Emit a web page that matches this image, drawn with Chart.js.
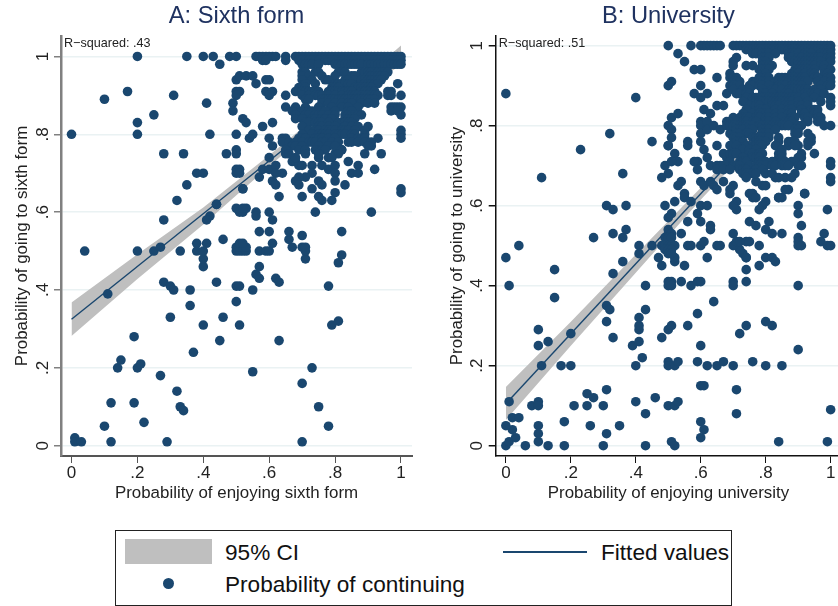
<!DOCTYPE html>
<html>
<head>
<meta charset="utf-8">
<title>Probability of continuing</title>
<script src="https://cdn.jsdelivr.net/npm/chart.js"></script>
<style>
  html, body { margin: 0; padding: 0; background: #fff; overflow: hidden; width: 838px; height: 606px; }
  body { position: relative; font-family: "Liberation Sans", Arial, sans-serif; }
  canvas { position: absolute; top: 0; }
  #chartA { left: 0; }
  #chartB { left: 430px; }
  .legend { position: absolute; left: 115px; top: 530px; width: 615px; height: 74px; border: 1px solid #222; }
  .legend span { position: absolute; font-size: 22.6px; line-height: 26px; color: #111; white-space: nowrap; }
  .swatch { position: absolute; left: 9px; top: 8px; width: 87px; height: 25px; background: #bfbfbf; }
  .fit { position: absolute; left: 387px; top: 20px; width: 84px; height: 2px; background: #1a476f; }
  .dot { position: absolute; left: 47px; top: 47px; width: 11px; height: 11px; border-radius: 50%; background: #1a476f; }
</style>
</head>
<body>
<canvas id="chartA" width="419" height="510"></canvas>
<canvas id="chartB" width="416" height="510"></canvas>
<div class="legend">
  <div class="swatch"></div>
  <span style="left:109px;top:9px">95% CI</span>
  <div class="fit"></div>
  <span style="left:485px;top:9px">Fitted values</span>
  <div class="dot"></div>
  <span style="left:109px;top:41px">Probability of continuing</span>
</div>
<script>
const tickValues = [0, .2, .4, .6, .8, 1]
const tickLabels = ['0', '.2', '.4', '.6', '.8', '1']

// Panel A: fit and confidence band
const sixthBandX = [0, .2, .4, .6, .75, .9, 1]
const sixthBandLow = [.282, .428, .568, .718, .826, .922, .978]
const sixthBandHigh = [.368, .492, .612, .746, .85, .954, 1.028]
const sixthFitX = [0, 1]
const sixthFitY = [.325, 1.003]

// Panel A: sparse points as [x, y]
const sixthPoints = [
  [.01, .02], [.01, .01], [.03, .01], [.12, .01], [.29, .01], [.70, .01], [.10, .05], [.22, .06], [.78, .05],
  [.12, .11], [.19, .11], [.33, .10], [.34, .09], [.75, .10], [.32, .14], [.27, .18], [.70, .16], [.55, .19],
  [.14, .20], [.15, .22], [.20, .20], [.21, .21], [.73, .20], [.37, .24], [.19, .28], [.45, .27], [.63, .27],
  [.30, .33], [.40, .31], [.46, .33], [.51, .31], [.79, .31], [.81, .32], [.36, .36], [.50, .37], [.11, .39],
  [.28, .42], [.30, .41], [.31, .40], [.36, .40], [.44, .42], [.50, .41], [.51, .41], [.55, .40], [.78, .41],
  [.62, .43], [.63, .42], [.57, .43], [.56, .44], [.57, .46], [.40, .46], [.40, .48], [.71, .48], [.81, .47],
  [.82, .49], [.04, .50], [.20, .50], [.25, .50], [.27, .51], [.33, .50], [.38, .50], [.40, .50], [.38, .52],
  [.41, .52], [.46, .53], [.50, .50], [.51, .50], [.52, .50], [.53, .50], [.50, .51], [.51, .51], [.52, .51],
  [.53, .51], [.51, .52], [.52, .52], [.57, .50], [.59, .50], [.60, .50], [.71, .50], [.70, .51], [.71, .51],
  [.67, .51], [.66, .53], [.61, .52], [.66, .55], [.70, .54], [.82, .55], [.57, .55], [.60, .55], [.32, .63],
  [.44, .62], [.42, .59], [.41, .58], [.28, .58], [.52, .66], [.50, .61], [.51, .60], [.52, .60], [.53, .61],
  [.52, .61], [.56, .60], [.56, .59], [.60, .60], [.61, .58], [.74, .60], [.91, .60], [0, .80], [.20, .80],
  [.20, .83], [.20, 1], [.10, .89], [.17, .91], [.31, .90], [.25, .85], [.41, .88], [.35, 1], [.40, 1], [.43, 1],
  [.45, .98], [.48, 1], [.50, 1], [.56, 1], [.57, 1], [.58, 1], [.59, 1], [.60, 1], [.61, 1], [.62, 1], [.58, .99],
  [.59, .99], [.65, 1], [.65, .99], [.42, .80], [.50, .80], [.28, .75], [.34, .75], [.47, .75], [.50, .76], [.50, .75],
  [.38, .70], [.40, .70], [.35, .67], [.50, .71], [.51, .71], [.50, .70], [.51, .70], [.50, .94], [.51, .95],
  [.53, .95], [.55, .95], [.56, .93], [.59, .94], [.60, .94], [.50, .91], [.51, .91], [.50, .90], [.59, .91],
  [.61, .91], [.60, .90], [.49, .88], [.49, .86], [.52, .84], [.53, .83], [.58, .82], [.61, .83], [.54, .79],
  [.55, .80], [.60, .79], [.61, .77], [.60, .74], [.65, .90], [.65, .87], [.58, .71], [.60, .71], [.62, .72],
  [.64, .70], [.62, .70], [.57, .69], [.61, .68], [.62, .67], [.63, .64], [.52, .66], [.44, .62], [.65, .75],
  [.67, .73], [.68, .73], [.69, .72], [.70, .72], [.73, .72], [.76, .72], [.78, .71], [.80, .72], [.80, .70],
  [.73, .70], [.71, .69], [.69, .69], [.68, .68], [.69, .67], [.80, .68], [.75, .68], [.76, .67], [.73, .66],
  [.83, .67], [.80, .65], [.75, .64], [.76, .63], [.79, .63], [.70, .64], [.84, .73], [.87, .72], [.85, .70],
  [.87, .70], [.92, .71], [.89, .75], [.94, .75], [.91, .77], [.75, .74], [.78, .74], [.80, .75], [.82, .76],
  [1, .66], [1, .65]
]

// Panel A: dense upper right, by row as [y, xs]
const sixthRows = [
  [1, [.68, .69, .70, .71, .72, .73, .74, .75, .76, .77, .78, .79, .80, .81, .82, .83, .84, .85, .86, .87, .88, .89, .90, .91, .92, .93, .94, .95, .96, .97, .98, .99, 1]],
  [.99, [.69, .70, .71, .72, .73, .74, .75, .77, .78, .79, .80, .81, .82, .83, .84, .85, .86, .87, .88, .89, .90, .91, .92, .93, .94, .95, .96, .97, .98, .99, 1]],
  [.98, [.70, .71, .72, .73, .75, .80, .81, .82, .83, .84, .85, .86, .87, .88, .90, .91, .92, .93, .94, .95, .96, .97, .98, .99, 1]],
  [.96, [.70, .71, .74, .75, .81, .82, .83, .88, .89, .90, .91, .92, .93, .94, .95, .96]],
  [.95, [.70, .72, .76, .80, .85, .86, .90, .91, .92, .93, .94, .95]],
  [.94, [.70, .73, .77, .78, .83, .84, .86, .88, .89, .90, .91, .92, .93, .94]],
  [.93, [.71, .74, .80, .81, .82, .83, .84, .85, .89, .90, .91, .92, .93, .99]],
  [.92, [.69, .71, .79, .80, .81, .86, .87, .88, .89, .90, .91]],
  [.91, [.68, .70, .71, .72, .73, .74, .75, .78, .79, .80, .81, .82, .83, .84, .85, .88, .89, .90, .91, .92, .96, .97]],
  [.90, [.70, .72, .74, .75, .76, .78, .80, .82, .84, .85, .86, .87, .88, .89, .90, .91, .92, .93, .96, .97, 1]],
  [.89, [.71, .72, .76, .77, .78, .79, .80, .81, .82, .83, .84, .85, .86, .87, .88, .89, .90, .91, .92]],
  [.88, [.76, .78, .80, .82, .84, .85, .88, .90, .92]],
  [.87, [.68, .71, .75, .79, .82, .84, .87, .97, .98, .99, 1]],
  [.86, [.67, .70, .72, .73, .75, .77, .80, .84, .85, .97, .99]],
  [.85, [.68, .71, .72, .74, .75, .76, .78, .80, .83, .84, .85, .86, .87, .88, 1]],
  [.84, [.68, .70, .73, .74, .76, .77, .79, .83, .84, .85, .86]],
  [.83, [.71, .72, .74, .75, .76, .78, .81, .82, .83, .84, .85]],
  [.82, [.70, .75, .76, .78, .80, .83, .85, .87, .90]],
  [.81, [.72, .74, .75, .77, .78, .79, .80, .82, .83, .84, .86, .89, 1]],
  [.80, [.70, .73, .75, .76, .77, .78, .80, .81, .82, .83, .85, .86, .89, 1]],
  [.79, [.64, .65, .69, .70, .71, .74, .75, .76, .78, .80, .85, .87, .88, .89, .93, 1]],
  [.78, [.64, .66, .68, .70, .72, .73, .74, .76, .77, .79, .81, .84, .85, .87, .89, .91]],
  [.77, [.67, .68, .70, .75, .78, .80, .90]],
  [.76, [.65, .69, .71, .74, .76, .77, .82]],
  [.75, [.66, .71, .75, .81]],
  [.74, [.68, .79]]
]

// Panel B: fit and confidence band
const uniBandX = [0, .2, .4, .6, .75, .9, 1]
const uniBandLow = [.064, .25, .432, .615, .745, .865, .94]
const uniBandHigh = [.147, .31, .478, .645, .775, .905, 1.0]
const uniFitX = [0, 1]
const uniFitY = [.105, .98]

// Panel B: sparse points as [x, y]
const uniPoints = [
  [0, 0], [.01, .01], [.03, .02], [.02, .04], [0, .05], [.06, 0], [.10, .01], [.10, .03], [.10, .05], [.13, 0], [.18, 0],
  [.18, .06], [.26, .05], [.30, 0], [.31, .03], [.35, .05], [.43, 0], [.43, .08], [.51, .01], [.52, 0], [.60, .02],
  [.61, .04], [.60, .06], [.71, .08], [.84, .01], [.99, .01], [1, .09], [.02, .07], [.04, .07], [.01, .11], [.08, .10],
  [.10, .11], [.10, .10], [.21, .10], [.25, .10], [.25, .13], [.27, .12], [.30, .10], [.31, .14], [.40, .11], [.46, .12],
  [.50, .10], [.52, .10], [.53, .11], [.60, .15], [.61, .15], [.71, .14], [.11, .20], [.17, .20], [.20, .20], [.40, .20],
  [.42, .22], [.50, .21], [.50, .20], [.52, .20], [.53, .21], [.59, .21], [.62, .20], [.65, .20], [.67, .21], [.70, .20],
  [.76, .21], [.80, .20], [.85, .20], [.10, .29], [.10, .25], [.13, .26], [.20, .28], [.31, .31], [.33, .27], [.39, .25],
  [.41, .26], [.41, .29], [.41, .30], [.41, .32], [.48, .27], [.50, .29], [.51, .30], [.56, .30], [.60, .25], [.59, .33],
  [.72, .28], [.74, .30], [.80, .31], [.82, .30], [.90, .24], [.31, .35], [.32, .34], [.43, .34], [.15, .37], [.64, .36],
  [.01, .40], [.43, .40], [.50, .41], [.51, .41], [.50, .40], [.51, .40], [.54, .41], [.57, .40], [.59, .41], [.60, .41],
  [.70, .41], [.70, .40], [.74, .41], [.90, .40], [.15, .44], [.33, .43], [.74, .44], [0, .47], [.36, .46], [.41, .48],
  [.47, .47], [.48, .45], [.52, .46], [.52, .47], [.55, .45], [.62, .47], [.74, .47], [.78, .45], [.80, .47], [.82, .47],
  [.83, .46], [.73, .48], [.72, .49], [.27, .52], [.33, .53], [.37, .54], [.36, .52], [.41, .50], [.45, .50], [.50, .54],
  [.51, .53], [.54, .53], [.49, .52], [.50, .52], [.51, .52], [.48, .50], [.49, .50], [.50, .50], [.51, .50], [.52, .50],
  [.49, .49], [.50, .49], [.51, .49], [.50, .48], [.51, .48], [.56, .50], [.57, .50], [.60, .50], [.61, .51], [.56, .56],
  [.60, .56], [.63, .55], [.63, .54], [.65, .50], [.66, .50], [.70, .53], [.70, .50], [.71, .51], [.72, .51], [.74, .51],
  [.75, .51], [.78, .50], [.74, .47], [.75, .56], [.77, .55], [.81, .56], [.80, .54], [.82, .53], [.85, .53], [.91, .55],
  [.90, .52], [.90, .51], [.90, .50], [.91, .50], [.98, .53], [.97, .51], [.99, .50], [1, .50], [.36, .68], [.37, .60],
  [.31, .60], [.33, .59], [.04, .50], [.45, .76], [.50, .75], [.52, .73], [.56, .76], [.56, .75], [.49, .70], [.53, .71],
  [.51, .71], [.50, .68], [.48, .67], [.59, .71], [.58, .71], [.59, .69], [.61, .74], [.65, .75], [.62, .72], [.63, .70],
  [.65, .70], [.67, .73], [.68, .72], [.69, .73], [.54, .66], [.53, .65], [.55, .63], [.55, .62], [.57, .61], [.60, .66],
  [.61, .65], [.63, .66], [.64, .65], [.65, .64], [.67, .66], [.70, .65], [.69, .64], [.69, .63], [.52, .61], [.49, .60],
  [.51, .58], [.50, .57], [.60, .60], [.62, .60], [.59, .58], [.71, .61], [.70, .60], [.71, .59], [.80, .61], [.79, .60],
  [.78, .59], [.75, .63], [.76, .62], [.84, .62], [.85, .62], [.87, .64], [.92, .63], [.90, .60], [.90, .58], [.99, .59],
  [0, .88], [.23, .74], [.11, .67], [.32, .78], [.40, .87], [.53, .98], [.55, .96], [.58, .94], [.60, .94], [.65, .92],
  [.50, .90], [.51, .91], [.60, .90], [.58, .88], [.62, .88], [.60, .87], [.68, .88], [.65, .85], [.67, .85], [.61, .84],
  [.63, .83], [.51, .82], [.53, .83], [.50, .80], [.51, .79], [.51, .77], [.50, .75], [.60, .81], [.60, .80], [.62, .81],
  [.60, .78], [.60, .76], [.62, .79], [.64, .80], [.66, .79], [.68, .81], [.69, .78], [.84, .76], [.87, .75], [.90, .75],
  [.95, .73], [.94, .76], [.91, .72], [.84, .72], [.86, .67], [.83, .67], [.89, .68], [.86, .64], [.92, .63], [.84, .62],
  [.77, .66], [.79, .65], [.80, .65], [.76, .63], [.77, .62], [1, .80], [1, .85], [1, .71], [1, .70], [1, .66], [1, .67]
]

// Panel B: dense upper right, by row as [y, xs]
const uniRows = [
  [1, [.50, .57, .60, .61, .62, .63, .64, .65, .66, .70, .71, .72, .73, .74, .75, .76, .77, .78, .79, .80, .81, .82, .83, .84, .85, .86, .87, .88, .89, .90, .91, .92, .93, .94, .95, .96, .97, .98, .99, 1]],
  [.99, [.74, .75, .76, .77, .78, .79, .80, .81, .82, .83, .84, .85, .86, .87, .88, .89, .90, .91, .92, .93, .94, .95, .96, .97, .98, .99, 1]],
  [.98, [.76, .77, .79, .80, .81, .83, .87, .88, .89, .90, .92, .93, .94, .97, .98, .99, 1]],
  [.97, [.71, .79, .80, .81, .87, .88, .90, .91, .93, .94, .95, .96, .97, .99, 1]],
  [.96, [.70, .79, .80, .88, .89, .90, .91, .92, .93, .94, .95, .96, .97, 1]],
  [.95, [.70, .74, .76, .79, .80, .81, .82, .90, .91, .92, .93, .94, .95, .97, .98]],
  [.94, [.78, .79, .80, .81, .89, .90, .91, .92, .93, .94, .95, .98, 1]],
  [.93, [.69, .80, .88, .89, .90, .92, .94, .95, .98, .99]],
  [.92, [.69, .70, .71, .78, .80, .81, .84, .85, .86, .87, .88, .89, .90, .91, .92, .95, .96, .99, 1]],
  [.91, [.70, .71, .72, .76, .77, .78, .79, .80, .81, .83, .84, .85, .86, .87, .88, .89, .90, .91, .92, .93, .96, .98, 1]],
  [.90, [.69, .70, .71, .72, .75, .76, .78, .79, .81, .84, .85, .86, .88, .89, .90, .91, .97, .99, 1]],
  [.89, [.70, .73, .75, .79, .82, .83, .85, .87, .88, .89, .90, .91, .92, .93, .95, .97]],
  [.88, [.71, .72, .74, .75, .79, .80, .82, .86, .87, .92, .93, .94, .95, .96, .98]],
  [.87, [.74, .76, .77, .79, .80, .81, .82, .83, .84, .85, .86, .87, .88, .89, .90, .92, .95, 1]],
  [.86, [.73, .76, .77, .78, .79, .80, .81, .82, .83, .84, .85, .86, .87, .88, .90, .93, .97, 1]],
  [.85, [.75, .77, .78, .82, .83, .84, .86, .87, .88, .90, .91, .93]],
  [.84, [.74, .78, .79, .80, .83, .85, .87, .88, .91, .94, .95, .96]],
  [.83, [.73, .76, .78, .79, .80, .81, .83, .85, .87, .88, .91, .92, .95, .96]],
  [.82, [.70, .72, .73, .74, .75, .77, .78, .80, .81, .83, .85, .88, .89, .92, .93, .96, .97]],
  [.81, [.69, .71, .73, .74, .76, .77, .80, .81, .83, .86, .87, .88, .93, .96, .97]],
  [.80, [.68, .69, .70, .71, .72, .73, .74, .75, .76, .78, .79, .80, .81, .82, .83, .84, .85, .86, .87, .90, .91, .98]],
  [.79, [.71, .72, .73, .75, .76, .79, .80, .81, .83, .89, .90]],
  [.78, [.71, .72, .74, .75, .79, .80, .81, .89, .90, .93]],
  [.77, [.70, .71, .72, .76, .77, .78, .79, .80, .81, .84, .94]],
  [.76, [.71, .72, .73, .77, .78, .79, .80, .87, .88, .89, .93]],
  [.75, [.69, .71, .74, .76, .77, .78, .79, .83, .89, .93]],
  [.74, [.72, .73, .75, .77, .85]],
  [.73, [.70, .71, .75, .76, .78, .79, .84, .85, .91]],
  [.72, [.73, .76, .77, .78, .85, .90]],
  [.71, [.69, .72, .73, .74, .78, .79, .80, .82, .85, .86, .88, .89]],
  [.70, [.66, .67, .68, .70, .71, .72, .75, .77, .78, .79, .80, .82, .83, .85, .86, .87, .90, .91]],
  [.69, [.65, .67, .69, .72, .73, .74, .77, .79]],
  [.68, [.73, .74, .75, .76, .77, .80, .82]],
  [.67, [.74, .84, .88]]
]

const navy = '#1a476f'

function flatten(points, rows) {
  const rowPoints = rows.flatMap(([y, xs]) => xs.map(x => ({ x, y })))
  return points.map(([x, y]) => ({ x, y })).concat(rowPoints)
}

function zip(xs, ys) {
  return xs.map((x, i) => ({ x, y: ys[i] }))
}

// R-squared note in the top left corner of the plot
const noteLabel = {
  id: 'noteLabel',
  afterDraw(chart, args, opts) {
    const ctx = chart.ctx
    ctx.save()
    ctx.font = '12.6px "Liberation Sans"'
    ctx.fillStyle = '#222'
    ctx.textBaseline = 'middle'
    ctx.fillText(opts.text, chart.chartArea.left + 3, 44)
    ctx.restore()
  }
}

function panel(id, cfg) {
  const fixTicks = axis => { axis.ticks = tickValues.map(value => ({ value })) }
  return new Chart(document.getElementById(id), {
    type: 'scatter',
    plugins: [noteLabel],
    data: {
      datasets: [
        {
          data: flatten(cfg.points, cfg.rows),
          backgroundColor: navy,
          borderWidth: 0,
          pointRadius: 4.8
        },
        {
          type: 'line',
          data: zip(cfg.fitX, cfg.fitY),
          borderColor: navy,
          borderWidth: 1.4,
          pointRadius: 0,
          fill: false
        },
        {
          type: 'line',
          data: zip(cfg.bandX, cfg.bandHigh),
          borderWidth: 0,
          pointRadius: 0,
          backgroundColor: '#bfbfbf',
          fill: '+1'
        },
        {
          type: 'line',
          data: zip(cfg.bandX, cfg.bandLow),
          borderWidth: 0,
          pointRadius: 0,
          fill: false
        }
      ]
    },
    options: {
      responsive: false,
      animation: false,
      layout: { padding: { left: 0, right: cfg.rightPad, top: 0, bottom: 0 } },
      plugins: {
        legend: { display: false },
        tooltip: { enabled: false },
        noteLabel: { text: cfg.note },
        title: {
          display: true,
          fullSize: false,
          text: cfg.title,
          color: '#1f3260',
          font: { family: 'Liberation Sans', size: 23.7, weight: 'normal', lineHeight: 1.2 },
          padding: { top: 2, bottom: 5.5 }
        }
      },
      scales: {
        x: {
          type: 'linear',
          min: cfg.xMin,
          max: cfg.xMax,
          afterBuildTicks: fixTicks,
          afterFit: axis => { axis.height = 54 },
          border: { color: cfg.xAxisColor, width: cfg.xAxisWidth },
          grid: { drawOnChartArea: false, color: cfg.xAxisColor, tickLength: 7 },
          ticks: {
            color: '#222',
            padding: 0,
            maxRotation: 0,
            font: { family: 'Liberation Sans', size: 17 },
            callback: (v, i) => tickLabels[i]
          },
          title: {
            display: true,
            text: cfg.xTitle,
            color: '#222',
            font: { family: 'Liberation Sans', size: 16.9 },
            padding: { top: 0, bottom: 7 }
          }
        },
        y: {
          type: 'linear',
          min: cfg.yMin,
          max: cfg.yMax,
          afterBuildTicks: fixTicks,
          afterFit: axis => { axis.width = cfg.yWidth },
          border: { color: cfg.yAxisColor, width: cfg.yAxisWidth },
          grid: { color: '#eaf2f3', lineWidth: 1.5, tickColor: cfg.yAxisColor, tickLength: 7 },
          ticks: {
            color: '#222',
            padding: 4,
            minRotation: 90,
            maxRotation: 90,
            crossAlign: 'center',
            font: { family: 'Liberation Sans', size: 17 },
            callback: (v, i) => tickLabels[i]
          },
          title: {
            display: true,
            text: cfg.yTitle,
            color: '#222',
            font: { family: 'Liberation Sans', size: 16.9 },
            padding: { top: cfg.yTitlePad, bottom: 0 }
          }
        }
      }
    }
  })
}

panel('chartA', {
  title: 'A: Sixth form',
  note: 'R\u2212squared: .43',
  xTitle: 'Probability of enjoying sixth form',
  yTitle: 'Probability of going to sixth form',
  points: sixthPoints,
  rows: sixthRows,
  fitX: sixthFitX,
  fitY: sixthFitY,
  bandX: sixthBandX,
  bandLow: sixthBandLow,
  bandHigh: sixthBandHigh,
  xMin: -.0319,
  xMax: 1.0334,
  yMin: -.0265,
  yMax: 1.0527,
  rightPad: 7,
  yWidth: 61,
  yTitlePad: 12,
  xAxisColor: '#555',
  xAxisWidth: 2,
  yAxisColor: '#808080',
  yAxisWidth: 2.5
})

panel('chartB', {
  title: 'B: University',
  note: 'R\u2212squared: .51',
  xTitle: 'Probability of enjoying university',
  yTitle: 'Probability of going to university',
  points: uniPoints,
  rows: uniRows,
  fitX: uniFitX,
  fitY: uniFitY,
  bandX: uniBandX,
  bandLow: uniBandLow,
  bandHigh: uniBandHigh,
  xMin: -.0313,
  xMax: 1.0325,
  yMin: -.0258,
  yMax: 1.0243,
  rightPad: 0,
  yWidth: 65.7,
  yTitlePad: 17,
  xAxisColor: '#111',
  xAxisWidth: 1.5,
  yAxisColor: '#111',
  yAxisWidth: 1.5
})
</script>
</body>
</html>
